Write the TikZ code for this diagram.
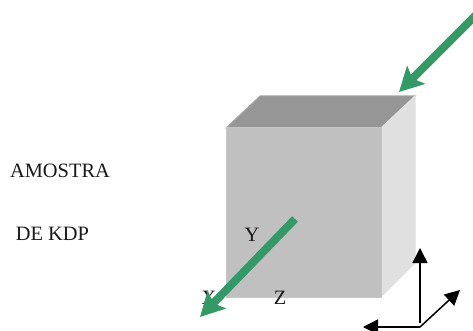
\documentclass[tikz,border=0pt]{standalone}
\usepackage{fontspec}
\setmainfont{Liberation Serif}
\usetikzlibrary{arrows.meta, positioning}
\definecolor{beamgreen}{HTML}{339966}
\definecolor{topgray}{HTML}{969696}
\definecolor{frontgray}{HTML}{C0C0C0}
\definecolor{sidegray}{HTML}{E0E0E0}

\begin{document}
\begin{tikzpicture}[
  x=1pt, y=-1pt,
  every node/.style={font=\fontsize{20.4}{24}\selectfont, text=black!90, inner sep=0pt},
  face/.style={line width=1pt, line join=miter},
  beam/.style={-{Stealth[length=24pt, width=25pt, inset=5pt]}, beamgreen, line width=8pt},
  axis/.style={-{Triangle[length=15pt, width=15pt]}, black, line width=1.5pt}
]
\useasboundingbox (0,0) rectangle (473,331);

% Crystal faces
\filldraw[face, fill=topgray, draw=topgray!85!white] (226,128) -- (260,96) -- (415,96) -- (381,128) -- cycle;
\filldraw[face, fill=sidegray, draw=sidegray] (381,128) -- (415,96) -- (415,263) -- (381,297) -- cycle;
\filldraw[face, fill=frontgray, draw=frontgray!90!white] (226,128) -- (381,128) -- (381,297) -- (226,297) -- cycle;

% Labels
\node (amostra) at (60,171) {AMOSTRA};
\node (kdp) at (52.5,234) {DE KDP};
\node (Y) at (252,235) {Y};
\node (X) at (209,298) {X};
\node (Z) at (280,298) {Z};

% Green beams
\coordinate (inA) at (476,15);
\coordinate (inB) at (399,92);
\coordinate (outA) at (295,219);
\coordinate (outB) at (200,317);
\draw[beam] (inA) -- (inB);
\draw[beam] (outA) -- (outB);

% Axes
\coordinate (orig) at (420,327);
\coordinate (axisUp) at (420,248);
\coordinate (axisLeft) at (363,327);
\coordinate (axisRight) at (460,290);
\draw[axis] (420,323) -- (axisUp);
\draw[axis] (orig) -- (axisLeft);
\draw[axis] (orig) -- (axisRight);

\end{tikzpicture}
\end{document}
